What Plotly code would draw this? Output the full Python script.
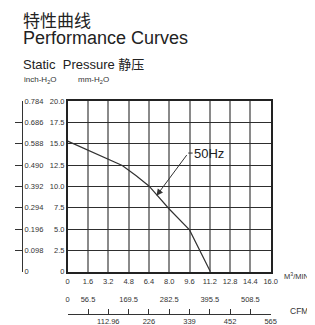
import plotly.graph_objects as go

# ---- data ----
flow_m3min = [0, 1.6, 3.2, 4.3, 5.4, 6.4, 8.0, 9.6, 11.25]
pressure_mm = [15.3, 14.25, 13.2, 12.45, 11.25, 10.05, 7.35, 4.9, 0]

x_ticks = [0, 1.6, 3.2, 4.8, 6.4, 8.0, 9.6, 11.2, 12.8, 14.4, 16.0]
x_labels = ["0", "1.6", "3.2", "4.8", "6.4", "8.0", "9.6", "11.2", "12.8", "14.4", "16.0"]
mm_ticks = [0, 2.5, 5.0, 7.5, 10.0, 12.5, 15.0, 17.5, 20.0]
mm_labels = ["0", "2.5", "5.0", "7.5", "10.0", "12.5", "15.0", "17.5", "20.0"]
inch_ticks = [0, 0.098, 0.196, 0.294, 0.392, 0.490, 0.588, 0.686, 0.784]
inch_labels = ["0", "0.098", "0.196", "0.294", "0.392", "0.490", "0.588", "0.686", "0.784"]
cfm_ticks = [0, 56.5, 112.96, 169.5, 226, 282.5, 339, 395.5, 452, 508.5, 565]
cfm_upper = ["0", "56.5", "169.5", "282.5", "395.5", "508.5"]
cfm_upper_vals = [0, 56.5, 169.5, 282.5, 395.5, 508.5]
cfm_lower = ["112.96", "226", "339", "452", "565"]
cfm_lower_vals = [112.96, 226, 339, 452, 565]

curve_label = "50Hz"
arrow_tip = (7.0, 8.9)
label_pos = (9.5, 13.9)

# page body has an 8px margin; figure is placed at (8, 8)
OFF = 8
W, H = 315 - OFF, 325 - OFF
def fx(px):
    return (px - OFF) / W
def fy(py):
    return 1 - (py - OFF) / H

TXT = "#333333"
NARROW = "Liberation Sans Narrow, Arial Narrow, Liberation Sans, Arial, sans-serif"
SANS = "Liberation Sans, Arial, Noto Sans CJK SC, sans-serif"

fig = go.Figure()
fig.add_trace(go.Scatter(x=flow_m3min, y=pressure_mm, mode="lines",
                         line=dict(color="#333333", width=1.2),
                         hoverinfo="skip", showlegend=False))
# carriers for extra axes
fig.add_trace(go.Scatter(x=[cfm_ticks[0], cfm_ticks[-1]], y=[0, 0], xaxis="x2", yaxis="y",
                         mode="markers", marker=dict(opacity=0), hoverinfo="skip", showlegend=False))
fig.add_trace(go.Scatter(x=[cfm_ticks[0], cfm_ticks[-1]], y=[0, 0], xaxis="x3", yaxis="y",
                         mode="markers", marker=dict(opacity=0), hoverinfo="skip", showlegend=False))
fig.add_trace(go.Scatter(x=[0, 0], y=[inch_ticks[0], inch_ticks[-1]], xaxis="x", yaxis="y2",
                         mode="markers", marker=dict(opacity=0), hoverinfo="skip", showlegend=False))

xdom = [fx(67.7), fx(270.7)]
ydom = [fy(271.7), fy(101)]
cfm_line = fy(313.7)

lower_text = [""] * len(cfm_ticks)
for v, t in zip(cfm_lower_vals, cfm_lower):
    lower_text[cfm_ticks.index(v)] = t

TF = dict(family=NARROW, size=7.5, color=TXT)

fig.update_layout(
    width=W, height=H,
    margin=dict(l=0, r=0, t=0, b=0),
    paper_bgcolor="white", plot_bgcolor="white",
    showlegend=False,
    xaxis=dict(domain=xdom, range=[0, 16], tickvals=x_ticks, ticktext=x_labels,
               showgrid=True, gridcolor="#8a8a8a", gridwidth=2,
               showline=True, mirror=True, linecolor="#222222", linewidth=1.5,
               zeroline=False, ticks="", ticklabelstandoff=2,
               tickfont=TF, automargin=False),
    yaxis=dict(domain=ydom, range=[0, 20], tickvals=mm_ticks, ticktext=mm_labels,
               showgrid=True, gridcolor="#2e2e2e", gridwidth=1.3,
               showline=True, mirror=True, linecolor="#222222", linewidth=1.5,
               zeroline=False, ticks="", ticklabelstandoff=0,
               tickfont=TF, automargin=False),
    yaxis2=dict(overlaying="y", anchor="free", position=fx(22), side="right",
                range=[0, 0.784], tickvals=inch_ticks, ticktext=inch_labels,
                showgrid=False, zeroline=False, showline=True, linecolor="#333333", linewidth=1.2,
                ticks="inside", ticklen=7, tickwidth=1.2, tickcolor="#333333",
                tickfont=TF, automargin=False),
    xaxis2=dict(overlaying="x", anchor="free", position=cfm_line, side="bottom",
                range=[0, 565], tickvals=cfm_ticks, ticktext=lower_text,
                showgrid=False, zeroline=False, showline=True, linecolor="#333333", linewidth=1.2,
                ticks="inside", ticklen=5, tickwidth=1.2, tickcolor="#333333",
                tickfont=TF, automargin=False),
    xaxis3=dict(overlaying="x", anchor="free", position=cfm_line, side="top",
                range=[0, 565], tickvals=cfm_upper_vals, ticktext=cfm_upper,
                showgrid=False, zeroline=False, showline=False, ticks="",
                ticklabelstandoff=10,
                tickfont=TF, automargin=False),
)

anns = [
    dict(text="特性曲线", x=fx(21), y=fy(19.5), xanchor="left", yanchor="middle",
         font=dict(family="Noto Sans CJK SC", size=17, color="#222222")),
    dict(text="Performance Curves", x=fx(21), y=fy(38.5), xanchor="left", yanchor="middle",
         font=dict(family=SANS, size=18, color="#222222")),
    dict(text="Static  Pressure 静压", x=fx(21), y=fy(64), xanchor="left", yanchor="middle",
         font=dict(family=SANS, size=13, color="#222222")),
    dict(text="inch-H<sub>2</sub>O", x=fx(21.5), y=fy(80), xanchor="left", yanchor="middle",
         font=dict(family=SANS, size=8, color=TXT)),
    dict(text="mm-H<sub>2</sub>O", x=fx(76), y=fy(80), xanchor="left", yanchor="middle",
         font=dict(family=SANS, size=8, color=TXT)),
    dict(text="M<sup>3</sup>/MIN", x=fx(296), y=fy(276), xanchor="center", yanchor="middle",
         font=dict(family=NARROW, size=7.5, color=TXT)),
    dict(text="CFM", x=fx(299), y=fy(311), xanchor="center", yanchor="middle",
         font=dict(family=NARROW, size=8.5, color=TXT)),
]
for a in anns:
    a.update(xref="paper", yref="paper", showarrow=False)
    fig.add_annotation(**a)

fig.add_annotation(x=arrow_tip[0], y=arrow_tip[1], xref="x", yref="y",
                   ax=label_pos[0], ay=label_pos[1], axref="x", ayref="y",
                   text=" ", font=dict(size=1), showarrow=True, arrowhead=2,
                   arrowsize=1.3, arrowwidth=1, arrowcolor="#333333")
fig.add_shape(type="line", xref="x", yref="y", x0=label_pos[0], y0=label_pos[1],
              x1=label_pos[0] + 0.35, y1=label_pos[1], line=dict(color="#333333", width=1))
fig.add_annotation(x=label_pos[0] + 0.28, y=label_pos[1], xref="x", yref="y",
                   text=curve_label, showarrow=False, xanchor="left", yanchor="middle",
                   font=dict(family=NARROW, size=13, color="#222222"))

fig.write_html("out.html")
